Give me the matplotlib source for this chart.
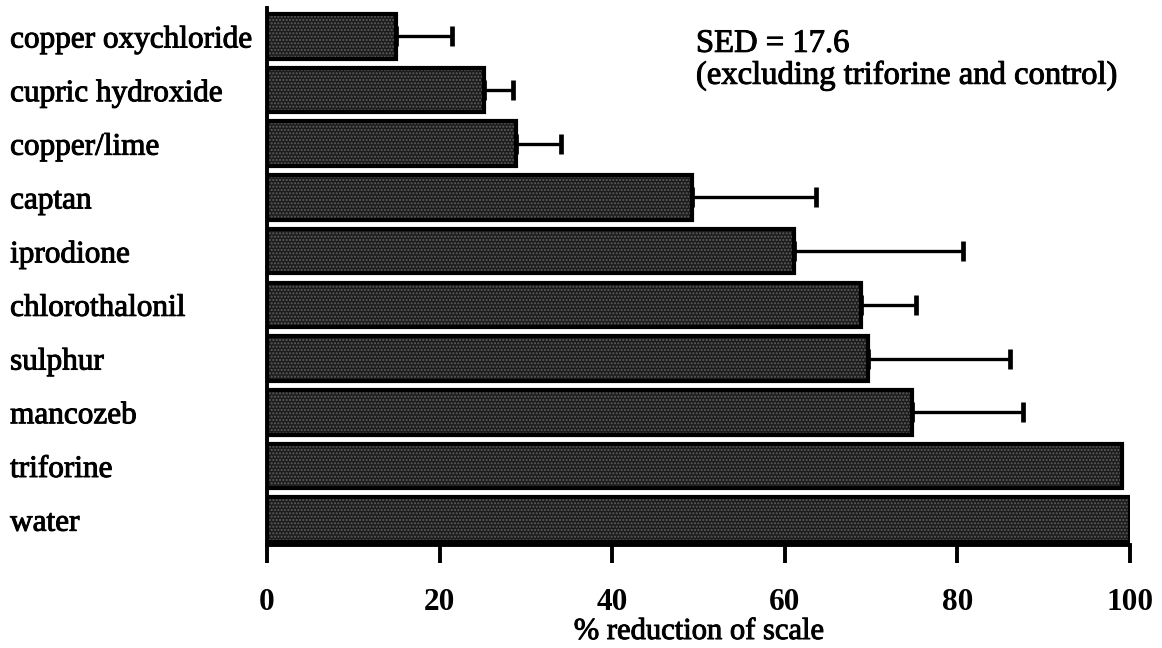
import matplotlib
matplotlib.use("Agg")
import matplotlib.pyplot as plt
import matplotlib.patheffects as pe
import numpy as np

plt.rcParams['font.family'] = ['Liberation Serif', 'DejaVu Serif']
plt.rcParams['hatch.linewidth'] = 1.0

treatments = ["copper oxychloride", "cupric hydroxide", "copper/lime", "captan",
              "iprodione", "chlorothalonil", "sulphur", "mancozeb", "triforine", "water"]
reduction = [15.0, 25.1, 28.9, 49.2, 61.1, 68.8, 69.6, 74.7, 99.1, 100.0]
err_upper = [6.4, 3.4, 5.2, 14.4, 19.5, 6.4, 16.5, 12.9, 0.0, 0.0]
xticks = [0, 20, 40, 60, 80, 100]

heavy = [pe.withStroke(linewidth=0.7, foreground='black')]

fig = plt.figure(figsize=(11.62, 6.48), dpi=100)
ax = fig.add_axes([0.2298, 0.159, 0.7427, 0.829])

y = np.arange(len(treatments))

# error bars (upper side only) drawn beneath the bars
has_err = [i for i, e in enumerate(err_upper) if e > 0]
ax.errorbar([reduction[i] for i in has_err], [y[i] for i in has_err],
            xerr=[[0] * len(has_err), [err_upper[i] for i in has_err]],
            fmt='none', ecolor='black', elinewidth=2.4, capsize=7, capthick=3.4,
            zorder=1)

# stippled bar fill
ax.barh(y, reduction, height=0.83, left=0, color='#1c1c1c',
        edgecolor='#5e5e5e', hatch='.....', linewidth=0, zorder=2)
ax.barh(y, reduction, height=0.83, left=0, fill=False,
        edgecolor='black', linewidth=3.0, zorder=3)

ax.set_xlim(0, 100)
ax.set_ylim(9.47, -0.53)
ax.set_yticks(y)
ax.set_yticklabels(treatments, fontsize=22.5)
for lab in ax.get_yticklabels():
    lab.set_horizontalalignment('left')
    lab.set_path_effects(heavy)
ax.tick_params(axis='y', length=0, pad=185)
ax.set_xticks(xticks)
ax.set_xticklabels([str(t) for t in xticks], fontsize=22.5, fontweight='bold')
ax.tick_params(axis='x', direction='out', length=13, width=2.8, pad=18)

for s in ['top', 'right']:
    ax.spines[s].set_visible(False)
for s in ['left', 'bottom']:
    ax.spines[s].set_linewidth(2.8)

ax.set_xlabel('% reduction of scale', fontsize=22, labelpad=0,
              path_effects=heavy)

ax.text(0.497, 0.918, 'SED = 17.6', transform=ax.transAxes, fontsize=23.5,
        ha='left', va='baseline', path_effects=heavy)
ax.text(0.497, 0.8585, '(excluding triforine and control)', transform=ax.transAxes,
        fontsize=23.5, ha='left', va='baseline', path_effects=heavy)

fig.savefig('out.png', dpi=100)
